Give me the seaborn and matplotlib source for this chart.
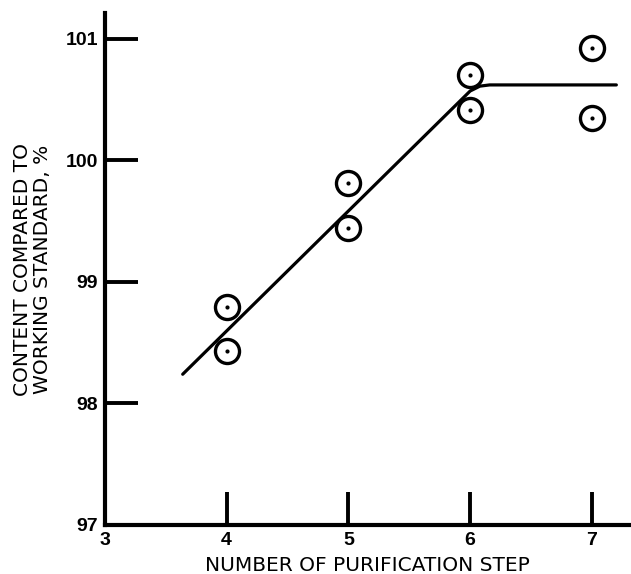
import matplotlib
matplotlib.use("Agg")
import matplotlib.pyplot as plt
import seaborn as sns
import pandas as pd

# Data
steps = [4, 4, 5, 5, 6, 6, 7, 7]
content = [98.79, 98.43, 99.81, 99.44, 100.70, 100.41, 100.92, 100.35]
fit_x = [3.64, 6.0, 6.08, 6.16, 7.2]
fit_y = [98.24, 100.57, 100.61, 100.62, 100.62]
x_ticks = [3, 4, 5, 6, 7]
y_ticks = [97, 98, 99, 100, 101]

sns.set_theme(style="white")
plt.rcParams['font.family'] = ['Liberation Sans', 'DejaVu Sans']
plt.rcParams['text.color'] = 'black'
plt.rcParams['axes.labelcolor'] = 'black'
plt.rcParams['xtick.color'] = 'black'
plt.rcParams['ytick.color'] = 'black'

pts = pd.DataFrame({"step": steps, "content": content})
fit = pd.DataFrame({"x": fit_x, "y": fit_y})

fig = plt.figure(figsize=(6.31, 5.74), dpi=100)
ax = fig.add_axes([0.166, 0.0854, 0.832, 0.8916])

sns.lineplot(data=fit, x="x", y="y", sort=False, estimator=None, color="black",
             linewidth=2.3, ax=ax, zorder=2)
sns.scatterplot(data=pts, x="step", y="content", marker="o", s=300, facecolor="white",
                edgecolor="black", linewidth=2.4, ax=ax, zorder=3)
sns.scatterplot(data=pts, x="step", y="content", marker="o", s=9, color="black",
                edgecolor="black", linewidth=0, ax=ax, zorder=4)

ax.set_xlim(3, 7.31)
ax.set_ylim(97, 101.21)

for s in ["top", "right"]:
    ax.spines[s].set_visible(False)
for s in ["left", "bottom"]:
    ax.spines[s].set_linewidth(3)
    ax.spines[s].set_color("black")

ax.set_xticks(x_ticks)
ax.set_yticks(y_ticks)
ax.tick_params(axis="both", which="major", direction="in", length=24, width=2.8,
               color="black", labelcolor="black", labelsize=14, pad=5,
               bottom=True, left=True)
ax.xaxis.get_major_ticks()[0].tick1line.set_visible(False)
ax.yaxis.get_major_ticks()[0].tick1line.set_visible(False)
for lab in ax.get_xticklabels() + ax.get_yticklabels():
    lab.set_fontweight("bold")

ax.set_xlabel("NUMBER OF PURIFICATION STEP", fontsize=14.5, family="DejaVu Sans")
ax.set_ylabel("CONTENT COMPARED TO\nWORKING STANDARD, %", fontsize=14.5,
              family="DejaVu Sans", linespacing=1.1)
ax.xaxis.set_label_coords(0.5, -0.061)
ax.yaxis.set_label_coords(-0.1, 0.5)

fig.savefig("out.png", dpi=100, facecolor="white")
